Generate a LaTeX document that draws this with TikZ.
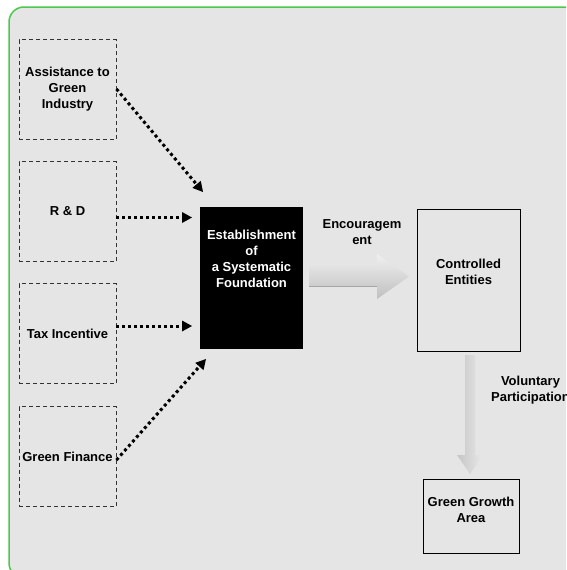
\documentclass[tikz,border=0pt]{standalone}
\usepackage{fontspec}
\setmainfont{Liberation Sans}
\usetikzlibrary{arrows.meta}

\definecolor{panelgray}{HTML}{E5E5E5}
\definecolor{panelgreen}{HTML}{4CC94C}

\tikzset{
  txt/.style={font=\fontsize{13}{16}\selectfont\bfseries, align=center, inner sep=0pt},
  dashbox/.style={draw=black!80, dash pattern=on 4pt off 3pt, line width=0.9pt,
    minimum width=97pt, minimum height=100pt, inner sep=0pt, txt},
  solidbox/.style={draw=black, line width=1pt, inner sep=0pt},
  dotarrow/.style={line width=3pt, dash pattern=on 3pt off 3pt,
    -{Triangle[length=10pt,width=11pt,line width=0pt]}},
}

\begin{document}
\begin{tikzpicture}[x=1pt,y=-1pt]
\useasboundingbox (0,0) rectangle (566,570);
\clip (0,0) rectangle (566,570);

% panel
\draw[panelgreen, fill=panelgray, line width=1.5pt, rounded corners=15pt]
  (9,7) rectangle (578,578);

% supporting measures
\node[dashbox] (assist) at (67.5,89.5)  {Assistance to\\Green\\Industry};
\node[dashbox] (rd)     at (67.5,211.5) {R \& D};
\node[dashbox] (tax)    at (67.5,333.5) {Tax Incentive};
\node[dashbox] (fin)    at (67.5,456.5) {Green Finance};

% central foundation
\node[fill=black, minimum width=103pt, minimum height=142pt, inner sep=0pt] (found) at (251.5,278) {};
\node[txt, text=white] (foundtxt) at (251.5,259) {Establishment\\of\\a Systematic\\Foundation};

% controlled entities and target area
\node[solidbox, minimum width=103pt, minimum height=142pt] (ctrl) at (468.5,280) {};
\node[txt] (ctrltxt) at (468.5,272) {Controlled\\Entities};
\node[solidbox, minimum width=96pt, minimum height=74pt] (growth) at (471,516) {};
\node[txt] (growthtxt) at (471,510) {Green Growth\\Area};

% arrow tips in front of the foundation box
\coordinate (tipA) at (203,192);
\coordinate (tipB) at (192,217.5);
\coordinate (tipC) at (192,326);
\coordinate (tipD) at (206,359);

\draw[dotarrow] (assist.east |- 0,89) -- (tipA);
\draw[dotarrow] (rd.east |- tipB) -- (tipB);
\draw[dotarrow] (tax.east |- tipC) -- (tipC);
\draw[dotarrow] (fin.east |- 0,460) -- (tipD);

% block arrows
\shade[top color=gray!12, bottom color=gray!50]
  (309,266) -- (377,266) -- (377,254) -- (409,276.5) -- (377,299) -- (377,286) -- (309,286) -- cycle;
\draw[gray!70, line width=0.8pt] (309,286) -- (377,286);

\shade[left color=gray!45, right color=gray!18]
  (465,355) -- (475,355) -- (475,455) -- (483,455) -- (470,474) -- (457,455) -- (465,455) -- cycle;

% arrow labels
\node[txt] (enc) at (362,232) {Encouragem\\ent};
\node[txt] (vol) at (530.5,390.5) {Voluntary\\Participation};
\end{tikzpicture}
\end{document}
